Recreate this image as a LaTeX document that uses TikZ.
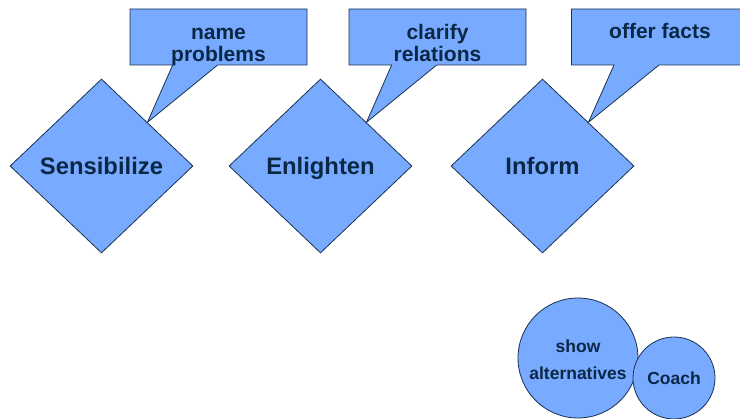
\documentclass[tikz,border=0pt]{standalone}
\usepackage{fontspec}
\setmainfont{Liberation Sans}
\usetikzlibrary{shapes.geometric,shapes.callouts}
\definecolor{boxblue}{RGB}{120,170,255}
\definecolor{boxline}{RGB}{25,50,80}
\definecolor{boxtext}{RGB}{10,40,70}
\begin{document}
\begin{tikzpicture}[x=1pt,y=-1pt]
\tikzstyle{every node}=[draw=boxline,fill=boxblue,text=boxtext,line width=0.8pt]
\tikzstyle{task}=[diamond,minimum width=183pt,minimum height=174pt,inner sep=0pt,text height=20pt,text depth=2pt,font=\bfseries\fontsize{23.8}{28}\selectfont]
\tikzstyle{note}=[rectangle callout,minimum width=177pt,minimum height=56pt,inner xsep=0pt,inner ysep=0pt,text height=53pt,text depth=3pt,align=center,callout pointer width=45pt,font=\bfseries\fontsize{21}{22}\selectfont]
\tikzstyle{one line}=[text height=30pt,text depth=26pt]
\tikzstyle{role}=[circle,inner sep=0pt,align=center,font=\bfseries\fontsize{17.5}{27}\selectfont]
\useasboundingbox (0,0) rectangle (740,419);
% the three tasks
\node[task] (sensibilize) at (101.5,166) {Sensibilize};
\node[task] (enlighten) at (320.5,166) {Enlighten};
\node[task] (inform) at (542.5,166) {Inform};
% what each task does
\node[note,callout absolute pointer={(sensibilize.north east)}] (name) at (218.5,37) {name\\problems};
\node[note,callout absolute pointer={(enlighten.north east)}] (clarify) at (437.5,37) {clarify\\relations};
\node[note,one line,callout absolute pointer={(inform.north east)}] (offer) at (660,37) {offer facts};
% coaching
\node[role,minimum size=120pt,text height=46pt,text depth=2pt] (show) at (578,358) {show\\alternatives};
\node[role,minimum size=82pt,text height=14pt,text depth=0pt] (coach) at (674,378) {Coach};
\end{tikzpicture}
\end{document}
